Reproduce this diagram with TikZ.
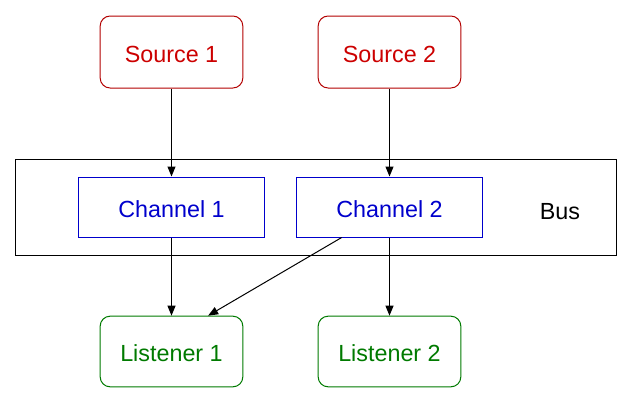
\documentclass[tikz,border=0pt]{standalone}
\usepackage{fontspec}
\setmainfont{Liberation Sans}
\usetikzlibrary{arrows.meta,calc}
\definecolor{srcred}{HTML}{CC0000}
\definecolor{srcline}{HTML}{B20000}
\definecolor{chblue}{HTML}{0000CC}
\definecolor{lisgreen}{HTML}{007A00}

\begin{document}
\begin{tikzpicture}[x=0.75pt, y=-0.75pt,
    boxtext/.style={font=\fontsize{17.5}{20}\selectfont, text height=15pt, text depth=0pt},
    source/.style={boxtext, draw=srcline, text=srcred, line width=0.75pt, rounded corners=7.5pt, minimum width=107pt, minimum height=54pt},
    channel/.style={boxtext, draw=chblue, text=chblue, line width=0.75pt, minimum width=140pt, minimum height=45pt},
    listener/.style={boxtext, draw=lisgreen, text=lisgreen, line width=0.75pt, rounded corners=7.5pt, minimum width=107pt, minimum height=53pt},
    flow/.style={-{Triangle[length=7.5pt,width=6pt]}, line width=0.75pt}]
            \useasboundingbox (0,0) rectangle (632,404);

            \node[draw, line width=0.75pt, minimum width=450.75pt, minimum height=72pt] (Bus) at (315.5,207) {};
            \node[boxtext] (BusLabel) at (560,209) {Bus};

            \node[source] (S1) at (171.5,52) {Source 1};
            \node[source] (S2) at (389.5,52) {Source 2};
            \node[channel] (C1) at (171.5,207) {Channel 1};
            \node[channel] (C2) at (389.5,207) {Channel 2};
            \node[listener] (L1) at (171.5,351.5) {Listener 1};
            \node[listener] (L2) at (389.5,351.5) {Listener 2};

            \draw[flow] (S1) -- (C1);
            \draw[flow] (S2) -- (C2);
            \draw[flow] (C1) -- (L1);
            \draw[flow] (C2) -- (L2);
            \draw[flow] ($(C2.south west)!0.245!(C2.south east)$) -- ($(L1.north west)!0.755!(L1.north east)$);
        \end{tikzpicture}
\end{document}
